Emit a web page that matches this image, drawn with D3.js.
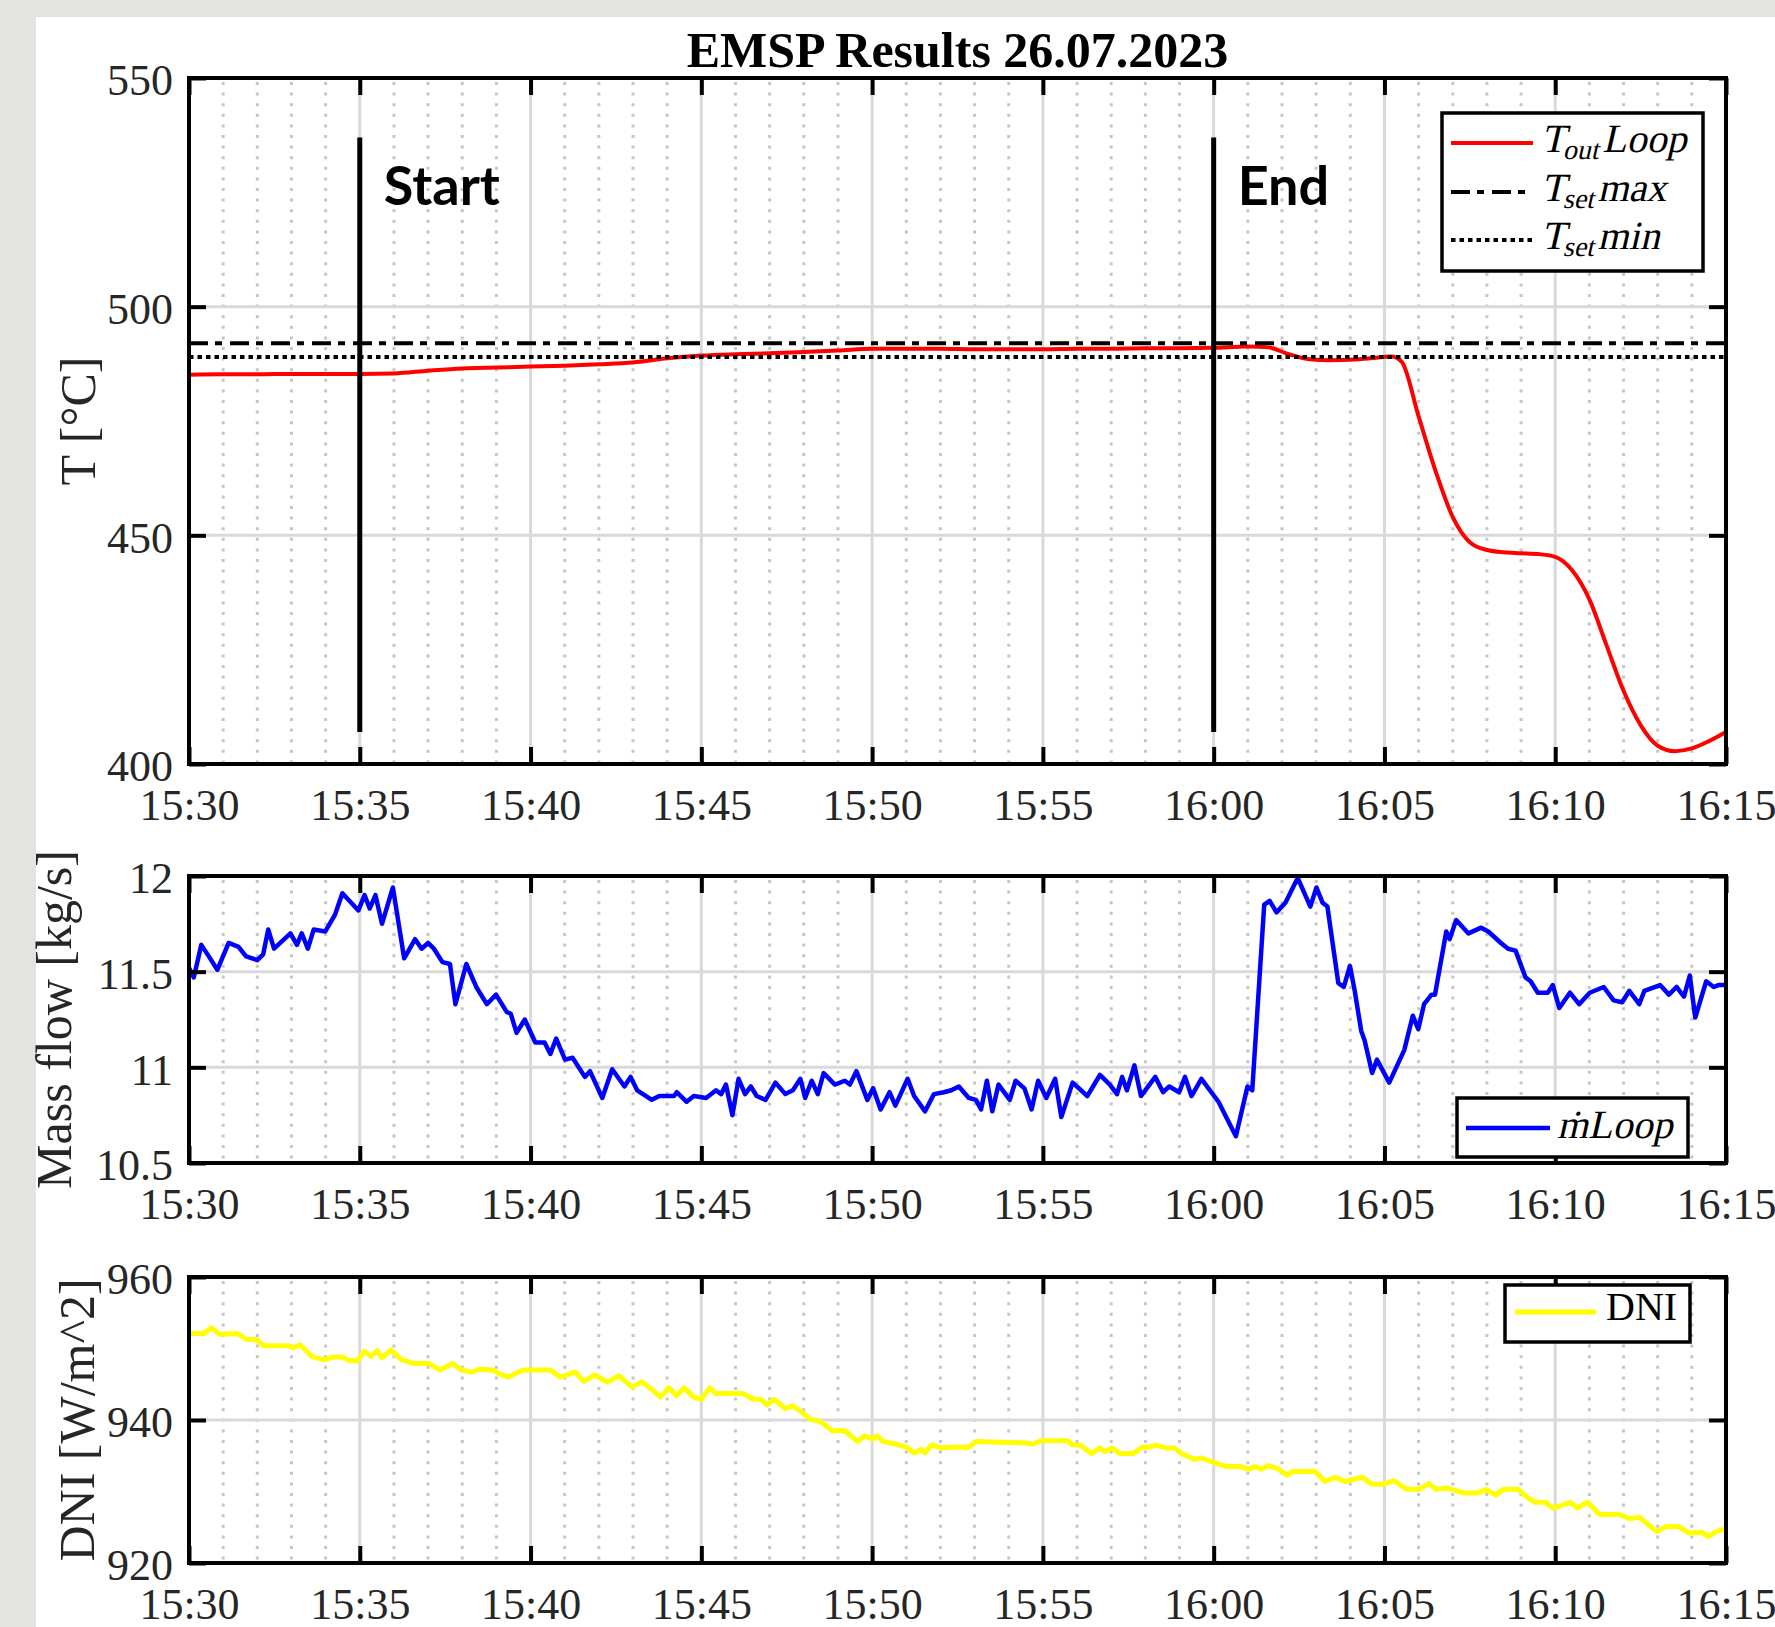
<!DOCTYPE html>
<html>
<head>
<meta charset="utf-8">
<title>EMSP Results 26.07.2023</title>
<script src="https://d3js.org/d3.v7.min.js"></script>
<style>
  body { margin: 0; background: #fff; }
  svg text { font-family: "Liberation Serif", "Times New Roman", serif; }
  .tick text { font-size: 44px; fill: #262626; }
  .ylabel { font-size: 50px; fill: #262626; }
  .marker { font-family: Lato, "Open Sans", sans-serif; font-weight: 700; font-size: 54px; fill: #000; }
  .leg { font-size: 40px; fill: #000; }
</style>
</head>
<body>
<div id="chart"></div>
<script>
// minutes after 15:30 -> value
const tempOut = [[0,485.1],[1,485.2],[2,485.2],[3,485.3],[4,485.3],[5,485.3],[6,485.4],[7,486.0],[8,486.5],[9,486.7],[10,486.9],[11,487.1],[12,487.4],[13,487.8],[14,488.7],[15,489.3],[16,489.6],[17,489.8],[18,490.1],[19,490.4],[20,490.8],[21,490.8],[22,490.8],[23,490.7],[24,490.7],[25,490.7],[26,490.8],[27,490.8],[28,490.9],[29,490.9],[30,491.0],[31,491.3],[31.6,491.1],[32.2,489.6],[32.8,488.5],[33.4,488.3],[34,488.4],[34.6,488.7],[35.2,489.1],[35.5,488],[36,476],[36.5,464],[37,454],[37.5,448.5],[38,446.8],[38.5,446.3],[39,446.1],[39.5,445.9],[40,445.3],[40.5,442.3],[41,436],[41.5,426],[42,416],[42.5,408.5],[43,404],[43.5,402.8],[44,403.4],[44.5,405],[45,407]];
const tSetMax = 492;
const tSetMin = 489;

const massFlow = [[0,11.52],[0.14,11.47],[0.36,11.64],[0.58,11.58],[0.83,11.51],[1.16,11.65],[1.45,11.63],[1.67,11.58],[2.0,11.56],[2.17,11.59],[2.32,11.72],[2.49,11.62],[2.97,11.70],[3.16,11.64],[3.30,11.70],[3.48,11.62],[3.65,11.72],[3.99,11.71],[4.28,11.80],[4.49,11.91],[4.96,11.82],[5.14,11.90],[5.29,11.83],[5.46,11.90],[5.65,11.75],[5.97,11.94],[6.30,11.57],[6.62,11.67],[6.81,11.62],[7.0,11.65],[7.17,11.62],[7.42,11.55],[7.64,11.54],[7.80,11.33],[8.12,11.54],[8.41,11.42],[8.72,11.33],[8.99,11.38],[9.30,11.29],[9.42,11.28],[9.59,11.18],[9.83,11.25],[10.14,11.13],[10.41,11.13],[10.58,11.07],[10.75,11.15],[11.01,11.04],[11.23,11.05],[11.59,10.95],[11.74,10.98],[12.10,10.84],[12.39,10.99],[12.75,10.90],[12.93,10.95],[13.12,10.88],[13.55,10.83],[13.77,10.85],[14.20,10.85],[14.28,10.87],[14.57,10.82],[14.78,10.85],[15.14,10.84],[15.43,10.88],[15.58,10.86],[15.72,10.91],[15.91,10.75],[16.09,10.94],[16.28,10.86],[16.45,10.90],[16.62,10.85],[16.88,10.83],[17.17,10.92],[17.46,10.86],[17.68,10.88],[17.90,10.94],[18.04,10.84],[18.23,10.93],[18.41,10.86],[18.58,10.97],[18.91,10.91],[19.20,10.93],[19.35,10.91],[19.54,10.98],[19.86,10.83],[20.03,10.89],[20.25,10.78],[20.51,10.87],[20.68,10.80],[21.04,10.94],[21.23,10.85],[21.55,10.77],[21.81,10.86],[22.10,10.87],[22.32,10.88],[22.54,10.90],[22.83,10.84],[23.04,10.83],[23.19,10.78],[23.36,10.93],[23.52,10.77],[23.70,10.91],[24.03,10.83],[24.20,10.93],[24.46,10.89],[24.67,10.78],[24.86,10.93],[25.10,10.84],[25.36,10.94],[25.54,10.74],[25.87,10.92],[26.30,10.85],[26.67,10.96],[26.96,10.91],[27.17,10.86],[27.32,10.95],[27.46,10.88],[27.68,11.01],[27.87,10.85],[28.29,10.95],[28.52,10.87],[28.70,10.90],[28.99,10.87],[29.16,10.95],[29.35,10.85],[29.64,10.94],[30.14,10.82],[30.65,10.64],[30.99,10.90],[31.13,10.88],[31.48,11.85],[31.64,11.87],[31.84,11.81],[32.10,11.86],[32.46,11.99],[32.83,11.84],[33.01,11.94],[33.19,11.86],[33.33,11.84],[33.65,11.44],[33.81,11.42],[33.99,11.53],[34.13,11.40],[34.32,11.19],[34.42,11.14],[34.64,10.97],[34.78,11.04],[35.14,10.92],[35.58,11.09],[35.83,11.27],[35.99,11.20],[36.16,11.33],[36.38,11.38],[36.48,11.38],[36.81,11.71],[36.91,11.67],[37.10,11.77],[37.46,11.70],[37.83,11.73],[38.04,11.71],[38.41,11.65],[38.62,11.62],[38.84,11.61],[39.13,11.47],[39.28,11.45],[39.49,11.39],[39.78,11.39],[39.93,11.43],[40.12,11.31],[40.43,11.39],[40.70,11.33],[41.01,11.39],[41.42,11.42],[41.71,11.35],[41.96,11.34],[42.17,11.40],[42.46,11.33],[42.61,11.40],[43.07,11.43],[43.33,11.38],[43.55,11.42],[43.77,11.37],[43.94,11.48],[44.10,11.26],[44.42,11.45],[44.64,11.42],[44.78,11.43],[45,11.43]];

const dni = [[0,952.1],[0.43,952.1],[0.65,952.9],[0.9,952.0],[1.42,952.1],[1.67,951.3],[2.0,951.2],[2.17,950.4],[2.9,950.4],[3.04,950.1],[3.26,950.5],[3.59,948.9],[3.96,948.4],[4.2,948.8],[4.49,948.8],[4.71,948.3],[4.93,948.3],[5.14,949.6],[5.33,948.9],[5.51,949.7],[5.65,948.7],[5.91,949.8],[6.23,948.4],[6.59,947.9],[7.03,947.9],[7.35,947.0],[7.72,947.9],[7.97,947.0],[8.26,946.7],[8.52,947.1],[8.91,947.0],[9.06,946.5],[9.35,946.0],[9.78,947.0],[10.58,947.0],[10.87,946.0],[11.30,946.7],[11.57,945.4],[11.88,946.3],[12.25,945.3],[12.58,946.2],[12.97,944.6],[13.26,945.3],[13.55,944.3],[13.80,943.2],[14.06,944.5],[14.28,943.4],[14.49,944.5],[14.78,943.2],[15.0,942.9],[15.25,944.5],[15.43,943.7],[16.23,943.7],[16.52,942.9],[16.74,942.9],[16.93,942.1],[17.13,942.9],[17.46,941.6],[17.68,942.0],[17.97,941.0],[18.19,940.1],[18.48,939.8],[18.84,938.5],[19.20,938.5],[19.57,937.0],[19.78,937.8],[20.0,937.3],[20.14,937.8],[20.32,937.0],[20.72,936.6],[21.01,936.2],[21.23,935.4],[21.45,935.9],[21.55,935.4],[21.74,936.5],[22.03,936.1],[22.32,936.2],[22.83,936.2],[23.04,937.0],[24.49,936.8],[24.71,936.6],[24.93,937.1],[25.72,937.1],[25.87,936.5],[26.09,936.5],[26.42,935.3],[26.67,936.1],[26.81,935.6],[27.03,936.1],[27.25,935.3],[27.65,935.3],[27.90,936.2],[28.12,936.2],[28.33,936.5],[28.58,936.1],[28.84,936.1],[29.06,935.3],[29.42,934.5],[29.64,934.7],[29.86,934.3],[30.36,933.5],[30.80,933.5],[31.01,933.1],[31.23,933.5],[31.38,933.1],[31.59,933.6],[31.88,933.2],[32.14,932.3],[32.32,932.8],[32.97,932.8],[33.26,931.4],[33.55,932.0],[33.84,931.4],[34.35,932.0],[34.64,931.0],[34.93,931.0],[35.29,931.5],[35.65,930.3],[36.01,930.3],[36.30,931.1],[36.52,930.3],[36.81,930.5],[37.32,929.8],[37.75,929.8],[37.97,930.3],[38.26,929.5],[38.48,930.3],[38.91,930.3],[39.20,929.1],[39.42,928.5],[39.71,928.5],[39.93,927.7],[40.22,928.1],[40.43,928.5],[40.65,927.7],[40.94,928.5],[41.30,926.8],[41.88,926.8],[42.17,926.2],[42.46,926.4],[42.97,924.4],[43.26,925.1],[43.62,925.1],[43.91,924.2],[44.28,924.3],[44.49,923.7],[44.71,924.4],[45,924.8]];

// Start / End markers (minutes after 15:30) and their vertical extent in °C
const markers = [{label: "Start", t: 5}, {label: "End", t: 30}];
const markerRange = [407, 537];

const tempTicks = [400, 450, 500, 550];
const flowTicks = [10.5, 11, 11.5, 12];
const dniTicks = [920, 940, 960];

const W = 1775, H = 1627;
const left = 189, right = 1726;
const dashMax = "19 7 7 8", dashMin = "4.5 4";

const svg = d3.select("#chart").append("svg")
    .attr("width", W)
    .attr("height", H);

svg.append("rect").attr("width", W).attr("height", H).attr("fill", "#e3e3e1");
svg.append("rect").attr("x", 36).attr("y", 17).attr("width", W - 36).attr("height", H - 17).attr("fill", "#fff");

const base = new Date(2023, 6, 26, 15, 30);
const toDate = m => new Date(base.getTime() + m * 60000);

const x = d3.scaleTime()
    .domain([toDate(0), toDate(45)])
    .range([left, right]);

const majorT = x.ticks(d3.timeMinute.every(5));
const minorT = x.ticks(d3.timeMinute.every(1)).filter(d => d.getMinutes() % 5 !== 0);

function panel(top, bottom, domain, yTicks, yFmt) {
    const y = d3.scaleLinear().domain(domain).range([bottom, top]);
    const grid = svg.append("g");
    grid.selectAll(".minor").data(minorT).join("line")
        .attr("x1", d => x(d)).attr("x2", d => x(d))
        .attr("y1", top + 4).attr("y2", bottom)
        .attr("stroke", "#c6c6c6").attr("stroke-width", 3)
        .attr("stroke-dasharray", "3 7.6");
    grid.selectAll(".vmajor").data(majorT).join("line")
        .attr("x1", d => x(d)).attr("x2", d => x(d))
        .attr("y1", top).attr("y2", bottom)
        .attr("stroke", "#d9d9d9").attr("stroke-width", 3);
    grid.selectAll(".hmajor").data(yTicks).join("line")
        .attr("x1", left).attr("x2", right)
        .attr("y1", d => y(d)).attr("y2", d => y(d))
        .attr("stroke", "#d9d9d9").attr("stroke-width", 3);

    const data = svg.append("g");

    const axes = svg.append("g");
    function styleAxis(g) {
        g.select(".domain").remove();
        g.selectAll(".tick line").attr("stroke", "#000").attr("stroke-width", 4);
    }
    axes.append("g").attr("transform", `translate(0,${bottom})`)
        .call(d3.axisBottom(x).tickValues(majorT).tickFormat(d3.timeFormat("%H:%M"))
            .tickSizeInner(-17).tickSizeOuter(0).tickPadding(25))
        .call(styleAxis);
    axes.append("g").attr("transform", `translate(0,${top})`)
        .call(d3.axisTop(x).tickValues(majorT).tickFormat("").tickSizeInner(-17).tickSizeOuter(0))
        .call(styleAxis);
    axes.append("g").attr("transform", `translate(${left},0)`)
        .call(d3.axisLeft(y).tickValues(yTicks).tickFormat(yFmt).tickSizeInner(-17).tickSizeOuter(0).tickPadding(16))
        .call(styleAxis)
        .call(g => g.selectAll(".tick text").attr("dy", "0.38em"));
    axes.append("g").attr("transform", `translate(${right},0)`)
        .call(d3.axisRight(y).tickValues(yTicks).tickFormat("").tickSizeInner(-17).tickSizeOuter(0))
        .call(styleAxis);
    axes.selectAll("text").attr("font-family", null).attr("font-size", null).attr("fill", null);
    axes.append("rect")
        .attr("x", left).attr("y", top)
        .attr("width", right - left).attr("height", bottom - top)
        .attr("fill", "none").attr("stroke", "#000").attr("stroke-width", 4);

    return {y, data, axes, top, bottom};
}

function legendBox(g, x0, y0, w, h) {
    g.append("rect").attr("x", x0).attr("y", y0).attr("width", w).attr("height", h)
        .attr("fill", "#fff").attr("stroke", "#000").attr("stroke-width", 3.5);
}

// math-style italic label: slanted serif text (keeps the serif face)
function mathText(g, x0, y0) {
    return g.append("g")
        .attr("transform", `translate(${x0},${y0}) skewX(-13)`)
        .append("text").attr("class", "leg");
}

// ---------- Temperature panel ----------
const p1 = panel(78, 764, [400, 550], tempTicks, d3.format("d"));

const lineT = d3.line()
    .x(d => x(toDate(d[0])))
    .y(d => p1.y(d[1]))
    .curve(d3.curveMonotoneX);

p1.data.append("path").datum(tempOut)
    .attr("d", lineT)
    .attr("fill", "none").attr("stroke", "#ff0000").attr("stroke-width", 4);

p1.data.append("line")
    .attr("x1", left).attr("x2", right)
    .attr("y1", p1.y(tSetMax)).attr("y2", p1.y(tSetMax))
    .attr("stroke", "#000").attr("stroke-width", 4).attr("stroke-dasharray", dashMax);
p1.data.append("line")
    .attr("x1", left).attr("x2", right)
    .attr("y1", p1.y(tSetMin)).attr("y2", p1.y(tSetMin))
    .attr("stroke", "#000").attr("stroke-width", 4).attr("stroke-dasharray", dashMin);

p1.data.selectAll(".mk").data(markers).join("line")
    .attr("x1", d => x(toDate(d.t))).attr("x2", d => x(toDate(d.t)))
    .attr("y1", p1.y(markerRange[0])).attr("y2", p1.y(markerRange[1]))
    .attr("stroke", "#000").attr("stroke-width", 5);
p1.data.selectAll(".mkt").data(markers).join("text")
    .attr("class", "marker")
    .attr("x", d => x(toDate(d.t)) + 24)
    .attr("y", 205)
    .text(d => d.label);

// legend 1
const lg1 = p1.axes.append("g");
legendBox(lg1, 1442, 113, 261, 158);
const leg1 = [
    {sub: "out", tail: "Loop", y: 143, dash: null},
    {sub: "set", tail: "max", y: 192, dash: dashMax},
    {sub: "set", tail: "min", y: 240, dash: dashMin}
];
leg1.forEach((e, i) => {
    lg1.append("line").attr("x1", 1451).attr("x2", 1533).attr("y1", e.y).attr("y2", e.y)
        .attr("stroke", i === 0 ? "#ff0000" : "#000").attr("stroke-width", 4)
        .attr("stroke-dasharray", e.dash);
    const t = mathText(lg1, 1541, e.y + 9);
    t.append("tspan").text("T");
    t.append("tspan").attr("font-size", 28).attr("dy", 7).attr("dx", -1).text(e.sub);
    t.append("tspan").attr("dy", -7).attr("dx", 2).text(e.tail);
});

// ---------- Mass flow panel ----------
const p2 = panel(876, 1163, [10.5, 12], flowTicks, d => d3.format("")(d));

const lineF = d3.line()
    .x(d => x(toDate(d[0])))
    .y(d => p2.y(d[1]));

p2.data.append("path").datum(massFlow)
    .attr("d", lineF)
    .attr("fill", "none").attr("stroke", "#0000ff").attr("stroke-width", 4.5)
    .attr("stroke-linejoin", "round");

const lg2 = p2.axes.append("g");
legendBox(lg2, 1457, 1098, 231, 59);
lg2.append("line").attr("x1", 1466).attr("x2", 1550).attr("y1", 1128).attr("y2", 1128)
    .attr("stroke", "#0000ff").attr("stroke-width", 4.5);
mathText(lg2, 1557, 1138).text("ṁLoop");

// ---------- DNI panel ----------
const p3 = panel(1277, 1563, [920, 960], dniTicks, d3.format("d"));

const lineD = d3.line()
    .x(d => x(toDate(d[0])))
    .y(d => p3.y(d[1]));

p3.data.append("path").datum(dni)
    .attr("d", lineD)
    .attr("fill", "none").attr("stroke", "#ffff00").attr("stroke-width", 5)
    .attr("stroke-linejoin", "round");

const lg3 = p3.axes.append("g");
legendBox(lg3, 1505, 1285, 185, 57);
lg3.append("line").attr("x1", 1515).attr("x2", 1596).attr("y1", 1312).attr("y2", 1312)
    .attr("stroke", "#ffff00").attr("stroke-width", 5);
lg3.append("text").attr("class", "leg").attr("x", 1606).attr("y", 1320).text("DNI");

// ---------- titles ----------
svg.append("text")
    .attr("x", (left + right) / 2).attr("y", 67)
    .attr("text-anchor", "middle")
    .attr("font-size", 50).attr("font-weight", "bold").attr("fill", "#000")
    .text("EMSP Results 26.07.2023");

const ylabels = [
    {text: "T [°C]", x: 95, y: (78 + 764) / 2},
    {text: "Mass flow [kg/s]", x: 71, y: (876 + 1163) / 2},
    {text: "DNI [W/m^2]", x: 94, y: (1277 + 1563) / 2}
];
svg.selectAll(".ylabel").data(ylabels).join("text")
    .attr("class", "ylabel")
    .attr("text-anchor", "middle")
    .attr("transform", d => `translate(${d.x},${d.y}) rotate(-90)`)
    .text(d => d.text);
</script>
</body>
</html>
